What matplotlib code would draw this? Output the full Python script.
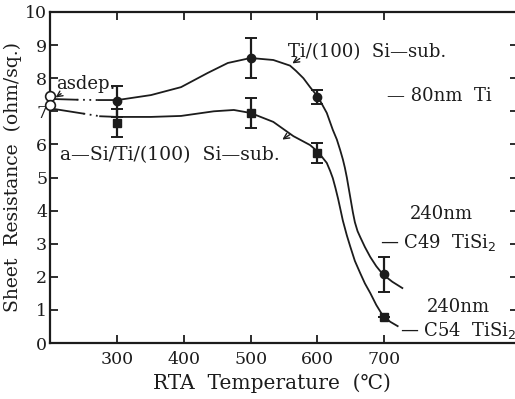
import numpy as np
import matplotlib.pyplot as plt

plt.rcParams['font.family'] = ['DejaVu Serif']

# measured points (RTA temperature, sheet resistance)
temps = [300, 500, 600, 700]
ti_r = [7.3, 8.6, 7.43, 2.08]
ti_err = [0.46, 0.6, 0.2, 0.53]
asi_r = [6.65, 6.95, 5.74, 0.8]
asi_err = [0.43, 0.45, 0.3, 0.0]

# as-deposited values (open circles)
asdep_x = [200, 200]
asdep_r = [7.45, 7.2]

# guide curves
ti_curve_x = [206, 240, 272, 301, 351, 396, 436, 466, 500, 534, 559, 568, 579, 589,
              601, 614, 623, 629, 634, 638, 641, 644, 647, 650, 653, 656, 660, 664,
              671, 679, 688, 698, 712, 727]
ti_curve_y = [7.37, 7.35, 7.34, 7.34, 7.49, 7.73, 8.16, 8.46, 8.61, 8.55, 8.38, 8.22,
              8.0, 7.73, 7.43, 6.95, 6.44, 6.15, 5.83, 5.55, 5.3, 5.0, 4.65, 4.3,
              3.95, 3.65, 3.38, 3.2, 2.9, 2.6, 2.32, 2.07, 1.85, 1.66]
asi_curve_x = [206, 250, 275, 301, 351, 396, 445, 475, 500, 534, 564, 589, 601, 614,
               619, 623, 627, 631, 635, 638, 644, 649, 656, 664, 671, 679, 688, 698,
               709, 720]
asi_curve_y = [7.07, 6.93, 6.85, 6.83, 6.83, 6.86, 7.0, 7.04, 6.95, 6.68, 6.25, 5.98,
               5.77, 5.44, 5.2, 4.98, 4.68, 4.35, 3.98, 3.7, 3.25, 2.92, 2.48, 2.11,
               1.8, 1.51, 1.15, 0.82, 0.64, 0.51]
ti_dots = (240, 272)
asi_dots = (250, 275)

fig = plt.figure(figsize=(5.15, 3.99), dpi=100)
ax = fig.add_axes([50 / 515, 56 / 399, 468 / 515, 331 / 399])
ink = '#1c1c1c'


def draw_curve(xs, ys, gap):
    xs = np.array(xs)
    ys = np.array(ys)
    a = xs <= gap[0]
    b = (xs >= gap[0]) & (xs <= gap[1])
    c = xs >= gap[1]
    ax.plot(xs[a], ys[a], color=ink, lw=1.3, solid_joinstyle='round')
    ax.plot(xs[b], ys[b], color=ink, lw=1.3, ls=(0, (1, 2.5)))
    ax.plot(xs[c], ys[c], color=ink, lw=1.3, solid_joinstyle='round')


draw_curve(ti_curve_x, ti_curve_y, ti_dots)
draw_curve(asi_curve_x, asi_curve_y, asi_dots)

ax.errorbar(temps, ti_r, yerr=ti_err, fmt='o', ms=6, color=ink, ecolor=ink,
            elinewidth=1.6, capsize=4, capthick=1.4)
ax.errorbar(temps, asi_r, yerr=asi_err, fmt='s', ms=5.5, color=ink, ecolor=ink,
            elinewidth=1.6, capsize=4, capthick=1.4)
ax.plot(asdep_x, asdep_r, 'o', ms=7, mfc='white', mec=ink, mew=1.2, clip_on=False,
        zorder=5)

ax.set_xlim(200, 900)
ax.set_ylim(0, 10)
ax.set_xticks([300, 400, 500, 600, 700])
ax.set_yticks(range(0, 11))
ax.tick_params(direction='in', top=True, right=True, length=6, width=1.3,
               labelsize=12.5, colors=ink, pad=2)
ax.tick_params(axis='x', pad=6)
for s in ax.spines.values():
    s.set_linewidth(1.6)
    s.set_color(ink)

fig.text(13 / 515, 1 - 177 / 399, 'Sheet  Resistance  (ohm/sq.)', fontsize=13.5,
         color=ink, ha='center', va='center', rotation=90)
fig.text(272 / 515, 1 - 383 / 399, 'RTA  Temperature  (\u2103)', fontsize=14.5,
         color=ink, ha='center', va='center')

tk = dict(fontsize=13, color=ink, va='center', ha='left')
ax.text(209, 7.82, 'asdep.', **tk)
ax.text(556, 8.79, 'Ti/(100)  Si\u2014sub.', **tk)
ax.text(215, 5.68, 'a\u2014Si/Ti/(100)  Si\u2014sub.', fontsize=13.5, color=ink,
        va='center', ha='left')
ax.text(704, 7.46, '\u2014 80nm  Ti', **tk)
ax.text(738, 3.9, '240nm', **tk)
ax.text(694, 3.05, '\u2014 C49  TiSi$_2$', **tk)
ax.text(764, 1.09, '240nm', **tk)
ax.text(723, 0.39, '\u2014 C54  TiSi$_2$', **tk)

arr = dict(arrowstyle='->', color=ink, lw=1.0)
ax.annotate('', xy=(205, 7.37), xytext=(220, 7.58), arrowprops=arr)
ax.annotate('', xy=(559, 8.4), xytext=(577, 8.64), arrowprops=arr)
ax.annotate('', xy=(544, 6.1), xytext=(562, 6.34), arrowprops=arr)

fig.savefig('out.png', dpi=100)
